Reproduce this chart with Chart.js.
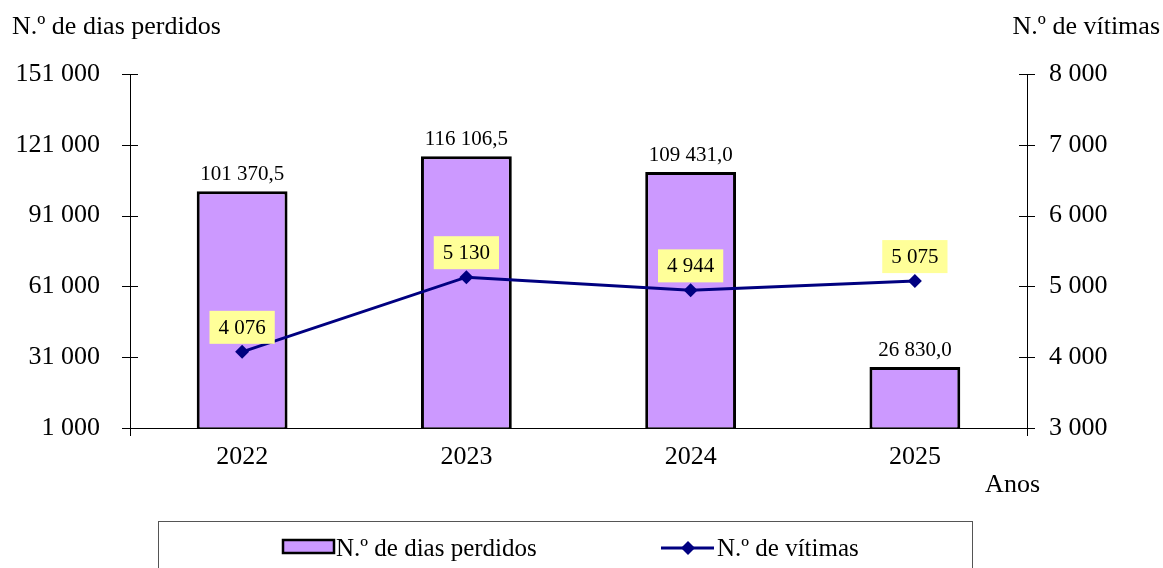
<!DOCTYPE html>
<html>
<head>
<meta charset="utf-8">
<script src="https://cdn.jsdelivr.net/npm/chart.js@4"></script>
<style>
  html, body { margin: 0; padding: 0; background: #fff; }
  #wrap { width: 1163px; height: 568px; position: relative; }
</style>
</head>
<body>
<div id="wrap"><canvas id="grafico"></canvas></div>
<script>
const anos = ['2022', '2023', '2024', '2025'];
const diasPerdidos = [101370.5, 116106.5, 109431.0, 26830.0];
const vitimas = [4076, 5130, 4944, 5075];

const tituloEsq = 'N.º de dias perdidos';
const tituloDir = 'N.º de vítimas';
const tituloX = 'Anos';

const corBarra = '#CC99FF';
const corLinha = '#000080';
const corEtiqueta = '#FFFF99';
const fonte = '"Liberation Serif", "Times New Roman", serif';

function milhares(v) {
  return String(v).replace(/\B(?=(\d{3})+(?!\d))/g, ' ');
}

function decimal(v) {
  const partes = v.toFixed(1).split('.');
  return milhares(partes[0]) + ',' + partes[1];
}

const extras = {
  id: 'extras',
  afterDraw(chart) {
    const ctx = chart.ctx;
    const area = chart.chartArea;
    const yE = chart.scales.y;
    const yD = chart.scales.y1;
    ctx.save();
    ctx.strokeStyle = '#000';
    ctx.lineWidth = 1;

    // marcas que cruzam os eixos
    yE.ticks.forEach((t, i) => {
      const py = Math.round(yE.getPixelForTick(i)) + 0.5;
      ctx.beginPath();
      ctx.moveTo(area.left - 8, py);
      ctx.lineTo(area.left + 8, py);
      ctx.stroke();
    });
    yD.ticks.forEach((t, i) => {
      const py = Math.round(yD.getPixelForTick(i)) + 0.5;
      ctx.beginPath();
      ctx.moveTo(area.right - 8, py);
      ctx.lineTo(area.right + 8, py);
      ctx.stroke();
    });
    [area.left, area.right].forEach(px => {
      ctx.beginPath();
      ctx.moveTo(Math.round(px) + 0.5, area.bottom);
      ctx.lineTo(Math.round(px) + 0.5, area.bottom + 8);
      ctx.stroke();
    });

    // valores das barras
    ctx.fillStyle = '#000';
    ctx.font = '21px ' + fonte;
    ctx.textAlign = 'center';
    ctx.textBaseline = 'middle';
    chart.getDatasetMeta(0).data.forEach((bar, i) => {
      ctx.fillText(decimal(diasPerdidos[i]), bar.x, bar.y - 17);
    });

    // valores da linha
    chart.getDatasetMeta(1).data.forEach((pt, i) => {
      const txt = milhares(vitimas[i]);
      const w = ctx.measureText(txt).width + 18;
      const h = 33;
      const bx = pt.x - w / 2;
      const by = pt.y - 8 - h;
      ctx.fillStyle = corEtiqueta;
      ctx.fillRect(bx, by, w, h);
      ctx.fillStyle = '#000';
      ctx.fillText(txt, pt.x, by + h / 2 + 1);
    });

    // títulos dos eixos
    ctx.font = '26px ' + fonte;
    ctx.textAlign = 'left';
    ctx.fillText(tituloEsq, 12, 27);
    ctx.textAlign = 'right';
    ctx.fillText(tituloDir, chart.width - 3, 27);
    ctx.fillText(tituloX, area.right + 13, area.bottom + 57);

    // legenda
    ctx.strokeStyle = '#555';
    ctx.lineWidth = 1;
    ctx.strokeRect(158.5, 521.5, 814, 60);
    const ly = 548;
    ctx.fillStyle = corBarra;
    ctx.fillRect(283, 540, 51, 13);
    ctx.strokeStyle = '#000';
    ctx.lineWidth = 2.5;
    ctx.strokeRect(283, 540, 51, 13);
    ctx.font = '25px ' + fonte;
    ctx.fillStyle = '#000';
    ctx.textAlign = 'left';
    ctx.fillText(chart.data.datasets[0].label, 336, ly + 1);

    ctx.strokeStyle = corLinha;
    ctx.lineWidth = 3;
    ctx.beginPath();
    ctx.moveTo(661, ly);
    ctx.lineTo(714, ly);
    ctx.stroke();
    ctx.fillStyle = corLinha;
    ctx.beginPath();
    ctx.moveTo(688, ly - 7);
    ctx.lineTo(695, ly);
    ctx.lineTo(688, ly + 7);
    ctx.lineTo(681, ly);
    ctx.closePath();
    ctx.fill();
    ctx.fillStyle = '#000';
    ctx.fillText(chart.data.datasets[1].label, 717, ly + 1);
    ctx.restore();
  }
};

new Chart(document.getElementById('grafico'), {
  type: 'bar',
  data: {
    labels: anos,
    datasets: [
      {
        label: tituloEsq,
        data: diasPerdidos,
        backgroundColor: corBarra,
        borderColor: '#000',
        borderWidth: 3,
        borderSkipped: false,
        barPercentage: 0.405,
        categoryPercentage: 1,
        yAxisID: 'y',
        order: 2
      },
      {
        type: 'line',
        label: tituloDir,
        data: vitimas,
        borderColor: corLinha,
        backgroundColor: corLinha,
        borderWidth: 3,
        pointStyle: 'rectRot',
        pointRadius: 7,
        pointBorderWidth: 0,
        pointBackgroundColor: corLinha,
        tension: 0,
        yAxisID: 'y1',
        order: 1
      }
    ]
  },
  options: {
    responsive: true,
    maintainAspectRatio: false,
    devicePixelRatio: 1,
    animation: false,
    layout: { padding: { top: 74, left: 0, right: 0, bottom: 0 } },
    plugins: {
      legend: { display: false },
      tooltip: { enabled: false }
    },
    scales: {
      x: {
        grid: { display: false, drawTicks: false },
        border: { display: true, color: '#000', width: 1 },
        ticks: { color: '#000', font: { family: fonte, size: 26 }, padding: 14 },
        afterFit: s => { s.height = 140; }
      },
      y: {
        position: 'left',
        min: 1000,
        max: 151000,
        grid: { drawOnChartArea: false, drawTicks: false },
        border: { display: true, color: '#000', width: 1 },
        ticks: {
          stepSize: 30000,
          color: '#000',
          font: { family: fonte, size: 26 },
          padding: 30,
          callback: v => milhares(v)
        },
        afterFit: s => { s.width = 130; }
      },
      y1: {
        position: 'right',
        min: 3000,
        max: 8000,
        grid: { drawOnChartArea: false, drawTicks: false },
        border: { display: true, color: '#000', width: 1 },
        ticks: {
          stepSize: 1000,
          color: '#000',
          font: { family: fonte, size: 26 },
          padding: 22,
          callback: v => milhares(v)
        },
        afterFit: s => { s.width = 136; }
      }
    }
  },
  plugins: [extras]
});
</script>
</body>
</html>
